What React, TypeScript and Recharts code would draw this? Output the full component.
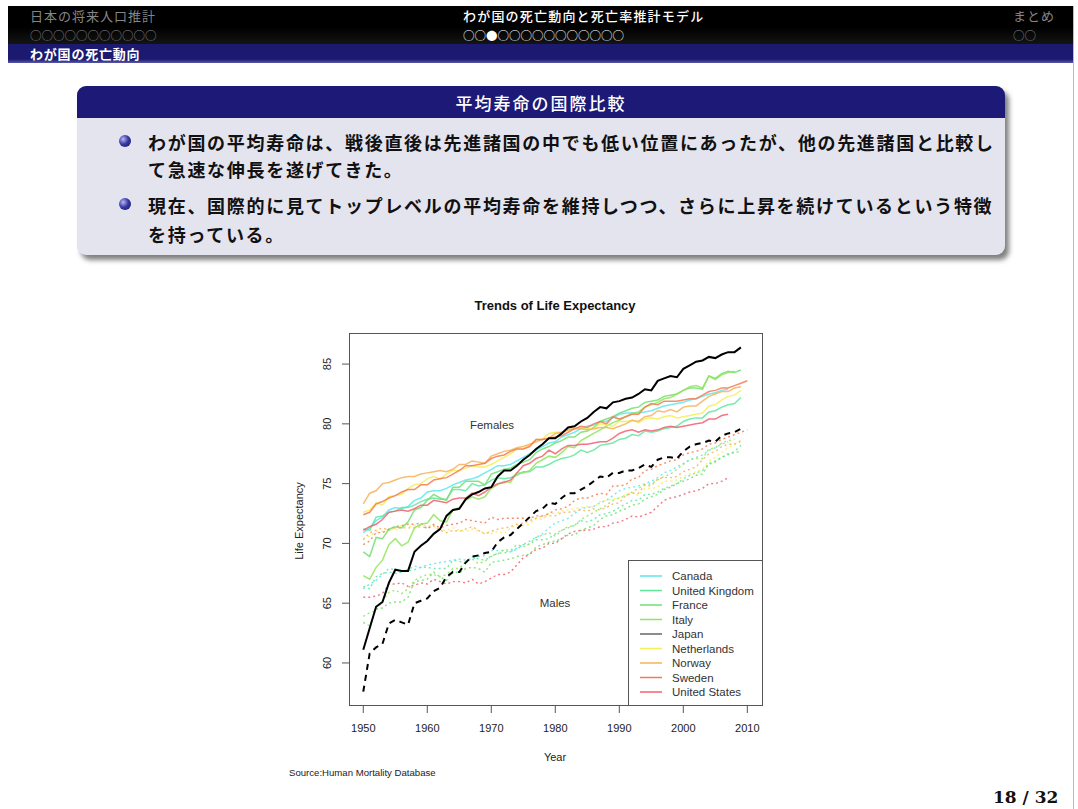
import React from 'react';
import { LineChart, Line, XAxis, YAxis } from 'recharts';

const YEARS = Array.from({ length: 61 }, (_, i) => 1950 + i);
const X_TICKS = [1950, 1960, 1970, 1980, 1990, 2000, 2010];
const Y_TICKS = [60, 65, 70, 75, 80, 85];
const COUNTRIES = ['Canada', 'United Kingdom', 'France', 'Italy', 'Japan', 'Netherlands', 'Norway', 'Sweden', 'United States'];
const COLORS = ['#5ee6f0', '#5ee89c', '#6fe06f', '#8fe65c', '#000000', '#f4ee58', '#f6b25a', '#f47a52', '#f2606f'];
const LEGEND_COLORS = ['#5ee6f0', '#5ee89c', '#6fe06f', '#8fe65c', '#666666', '#f4ee58', '#f6b25a', '#f47a52', '#f2606f'];

// Females
const canadaF = [
  70.9, 71.3, 71.9, 72.2, 72.8, 73.0, 72.9, 73.1, 73.6, 73.8,
  74.3, 74.4, 74.4, 74.6, 74.9, 75.1, 75.3, 75.4, 75.6, 75.9,
  76.2, 76.5, 76.5, 76.6, 76.9, 77.2, 77.5, 77.8, 78.1, 78.4,
  78.5, 78.9, 79.1, 79.3, 79.6, 79.8, 79.9, 80.2, 80.2, 80.5,
  80.8, 80.9, 80.9, 80.9, 81.0, 81.1, 81.3, 81.5, 81.6, 81.7,
  81.8, 82.0, 82.1, 82.3, 82.5, 82.6, 82.8, 82.9,
];
const ukF = [
  71.2, 71.1, 72.2, 72.3, 72.6, 72.7, 73.0, 73.0, 73.2, 73.5,
  73.7, 73.8, 73.7, 73.7, 74.5, 74.5, 74.4, 75.0, 74.8, 74.9,
  75.3, 75.5, 75.4, 75.5, 75.7, 76.0, 76.0, 76.4, 76.4, 76.6,
  76.9, 77.1, 77.2, 77.4, 77.8, 77.6, 77.8, 78.2, 78.3, 78.4,
  78.7, 78.8, 79.1, 79.0, 79.4, 79.3, 79.4, 79.6, 79.7, 79.8,
  80.2, 80.4, 80.5, 80.5, 81.0, 81.1, 81.4, 81.6, 81.7, 82.2,
];
const franceF = [
  69.3, 68.9, 70.5, 70.4, 71.2, 71.4, 71.3, 71.8, 72.8, 73.0,
  73.6, 74.1, 73.8, 73.6, 74.7, 74.7, 75.2, 75.2, 75.2, 74.9,
  75.8, 76.0, 76.2, 76.3, 76.6, 76.8, 77.0, 77.6, 77.9, 78.1,
  78.4, 78.6, 78.9, 78.9, 79.3, 79.4, 79.7, 80.2, 80.4, 80.6,
  80.9, 81.1, 81.3, 81.4, 81.8, 81.9, 82.0, 82.3, 82.4, 82.5,
  82.8, 83.0, 83.0, 82.9, 84.0, 83.8, 84.2, 84.4, 84.3, 84.5,
];
const italyF = [
  67.3, 67.0, 68.0, 68.6, 69.9, 70.4, 69.8, 70.1, 71.3, 71.6,
  71.7, 72.4, 71.9, 71.8, 72.8, 73.0, 73.6, 73.9, 73.7, 73.9,
  74.6, 74.9, 75.2, 75.1, 75.9, 75.9, 76.1, 76.7, 77.0, 77.3,
  77.2, 77.6, 78.1, 78.0, 78.6, 78.9, 79.2, 79.5, 79.8, 80.1,
  80.3, 80.6, 80.9, 81.0, 81.4, 81.6, 81.8, 82.1, 82.2, 82.5,
  82.8, 83.1, 83.2, 83.0, 84.0, 83.7, 84.1, 84.3, 84.4,
];
const japanF = [
  61.1, 62.9, 64.7, 65.1, 66.7, 67.8, 67.7, 67.7, 69.3, 69.8,
  70.2, 70.8, 71.2, 72.3, 72.8, 72.9, 73.7, 74.1, 74.3, 74.6,
  74.7, 75.6, 76.1, 76.1, 76.5, 77.0, 77.4, 77.9, 78.3, 78.8,
  78.8, 79.2, 79.7, 79.8, 80.2, 80.5, 81.0, 81.4, 81.3, 81.8,
  81.9, 82.1, 82.2, 82.5, 82.9, 82.8, 83.6, 83.8, 84.0, 83.9,
  84.6, 84.9, 85.2, 85.3, 85.6, 85.5, 85.8, 86.0, 86.0, 86.4,
];
const netherlandsF = [
  72.6, 72.8, 73.4, 73.2, 73.9, 74.0, 74.1, 74.6, 74.9, 75.0,
  75.4, 75.6, 75.4, 75.8, 76.1, 76.1, 76.3, 76.5, 76.4, 76.4,
  76.6, 76.9, 77.2, 77.5, 77.9, 77.9, 78.2, 78.7, 78.7, 79.2,
  79.3, 79.3, 79.5, 79.6, 79.7, 79.6, 79.6, 80.0, 79.9, 79.8,
  80.2, 80.2, 80.3, 80.1, 80.4, 80.5, 80.4, 80.6, 80.7, 80.5,
  80.6, 80.7, 80.8, 80.9, 81.5, 81.6, 82.0, 82.3, 82.4, 82.8,
];
const norwayF = [
  73.3, 74.2, 74.4, 75.0, 75.1, 75.3, 75.5, 75.6, 75.6, 75.8,
  75.9, 76.0, 76.1, 76.0, 76.2, 76.6, 76.6, 76.9, 76.8, 76.7,
  77.3, 77.5, 77.7, 77.8, 78.0, 78.1, 78.3, 78.5, 78.7, 78.8,
  79.2, 79.3, 79.5, 79.6, 79.6, 79.5, 79.6, 79.7, 79.7, 79.6,
  79.8, 80.0, 80.3, 80.2, 80.6, 80.7, 81.1, 81.0, 81.2, 81.0,
  81.4, 81.5, 81.5, 81.9, 82.3, 82.5, 82.7, 82.7, 83.0, 83.1,
];
const swedenF = [
  72.4, 72.6, 73.3, 73.5, 73.8, 74.0, 74.3, 74.5, 74.5, 74.9,
  74.9, 75.3, 75.4, 75.5, 75.8, 76.1, 76.5, 76.5, 76.6, 76.7,
  77.1, 77.3, 77.4, 77.7, 77.9, 77.9, 78.1, 78.7, 78.7, 78.8,
  78.9, 79.0, 79.3, 79.6, 79.8, 79.7, 80.0, 80.2, 80.0, 80.6,
  80.4, 80.6, 80.8, 80.8, 81.4, 81.7, 81.6, 81.9, 81.9, 81.9,
  82.0, 82.1, 82.1, 82.4, 82.7, 82.8, 83.0, 83.0, 83.2, 83.4,
  83.6,
];
const usF = [
  71.1, 71.4, 71.6, 72.0, 72.6, 72.7, 72.8, 72.7, 72.9, 73.2,
  73.2, 73.6, 73.5, 73.4, 73.7, 73.8, 73.8, 74.2, 74.0, 74.3,
  74.7, 75.0, 75.1, 75.3, 75.9, 76.5, 76.7, 77.1, 77.3, 77.8,
  77.5, 77.9, 78.2, 78.2, 78.3, 78.3, 78.4, 78.5, 78.5, 78.8,
  79.2, 79.4, 79.5, 79.3, 79.5, 79.4, 79.5, 79.7, 79.8, 79.7,
  79.8, 79.9, 80.0, 80.1, 80.4, 80.4, 80.7, 80.8,
];

// Males
const canadaM = [
  66.2, 66.6, 66.9, 67.4, 67.9, 67.8, 67.7, 67.8, 68.1, 68.0,
  68.2, 68.3, 68.4, 68.5, 68.6, 68.7, 68.6, 68.7, 68.9, 69.0,
  69.4, 69.4, 69.4, 69.3, 69.6, 69.9, 70.2, 70.5, 70.8, 71.3,
  71.7, 71.9, 72.1, 72.5, 72.9, 73.0, 73.1, 73.4, 73.6, 74.0,
  74.4, 74.6, 74.7, 74.8, 75.0, 75.2, 75.5, 75.9, 76.1, 76.4,
  76.7, 77.0, 77.2, 77.4, 77.8, 78.0, 78.3, 78.5,
];
const ukM = [
  66.4, 66.2, 67.2, 67.5, 67.6, 67.5, 67.6, 67.7, 67.8, 68.0,
  68.0, 67.9, 67.9, 67.9, 68.6, 68.5, 68.4, 68.9, 68.7, 68.6,
  68.9, 69.2, 69.2, 69.3, 69.5, 69.9, 69.9, 70.3, 70.3, 70.4,
  70.8, 71.1, 71.3, 71.5, 71.9, 71.8, 72.0, 72.4, 72.5, 72.7,
  73.0, 73.3, 73.6, 73.6, 74.1, 74.1, 74.3, 74.6, 74.8, 75.0,
  75.4, 75.7, 75.9, 76.1, 76.6, 76.9, 77.2, 77.4, 77.7, 78.2,
];
const franceM = [
  63.4, 63.1, 64.5, 64.6, 65.0, 65.1, 65.1, 65.5, 66.8, 66.9,
  67.0, 67.6, 67.2, 66.9, 67.7, 67.5, 67.9, 68.0, 67.9, 67.6,
  68.4, 68.5, 68.6, 68.7, 68.9, 69.0, 69.1, 69.7, 69.9, 70.1,
  70.2, 70.4, 70.7, 70.7, 71.1, 71.3, 71.5, 72.0, 72.3, 72.4,
  72.7, 72.9, 73.2, 73.3, 73.7, 73.9, 74.1, 74.5, 74.7, 75.0,
  75.2, 75.4, 75.7, 75.8, 76.7, 76.8, 77.2, 77.5, 77.6, 77.7,
];
const italyM = [
  63.9, 64.2, 64.4, 65.2, 65.9, 66.1, 65.8, 66.2, 66.9, 67.2,
  67.4, 67.4, 67.2, 67.4, 67.9, 67.9, 68.5, 68.7, 68.3, 68.5,
  69.0, 69.1, 69.5, 69.4, 69.9, 69.7, 70.0, 70.5, 70.7, 70.9,
  70.6, 71.1, 71.4, 71.5, 72.0, 72.3, 72.6, 72.9, 73.2, 73.6,
  73.8, 74.0, 74.3, 74.6, 74.9, 75.0, 75.3, 75.6, 75.8, 76.2,
  76.6, 77.0, 77.1, 77.1, 77.9, 78.0, 78.4, 78.6, 78.7,
];
const japanM = [
  57.6, 60.8, 61.3, 61.6, 63.3, 63.6, 63.4, 63.2, 65.0, 65.2,
  65.4, 66.0, 66.3, 67.2, 67.6, 67.6, 68.4, 68.9, 69.0, 69.2,
  69.3, 70.1, 70.5, 70.7, 71.2, 71.7, 72.2, 72.7, 72.9, 73.4,
  73.3, 73.8, 74.2, 74.2, 74.5, 74.8, 75.2, 75.6, 75.5, 75.9,
  75.9, 76.1, 76.1, 76.3, 76.6, 76.4, 77.0, 77.2, 77.2, 77.1,
  77.7, 78.1, 78.3, 78.4, 78.6, 78.5, 79.0, 79.2, 79.3, 79.6,
];
const netherlandsM = [
  70.4, 70.6, 71.0, 71.0, 71.2, 71.1, 71.5, 71.4, 71.5, 71.5,
  71.5, 71.4, 71.1, 71.1, 71.3, 71.1, 71.0, 71.2, 71.0, 70.9,
  70.8, 71.0, 70.8, 71.3, 71.5, 71.5, 71.6, 72.1, 72.0, 72.5,
  72.5, 72.7, 72.8, 72.9, 73.0, 73.1, 73.0, 73.5, 73.6, 73.7,
  73.8, 74.1, 74.3, 74.0, 74.6, 74.6, 74.7, 75.2, 75.2, 75.3,
  75.6, 75.8, 76.0, 76.2, 76.9, 77.2, 77.6, 78.0, 78.3, 78.5,
];
const norwayM = [
  70.3, 70.9, 71.1, 71.3, 71.1, 71.3, 71.3, 71.3, 71.3, 71.4,
  71.3, 71.5, 71.1, 70.9, 71.1, 71.0, 71.2, 71.4, 71.1, 70.8,
  71.0, 71.2, 71.3, 71.4, 71.6, 71.7, 71.9, 72.1, 72.3, 72.3,
  72.3, 72.6, 72.6, 72.7, 72.8, 72.7, 72.9, 72.8, 73.0, 73.3,
  73.4, 74.0, 74.2, 74.2, 74.9, 74.8, 75.4, 75.5, 75.5, 75.6,
  76.0, 76.2, 76.4, 77.0, 77.5, 77.7, 78.1, 78.3, 78.3, 78.6,
];
const swedenM = [
  69.9, 70.2, 70.9, 70.9, 71.2, 71.4, 71.5, 71.6, 71.6, 71.7,
  71.2, 71.6, 71.3, 71.5, 71.6, 71.7, 72.0, 71.9, 71.8, 71.7,
  72.2, 72.0, 72.1, 72.1, 72.1, 72.1, 72.1, 72.3, 72.3, 72.5,
  72.8, 72.9, 73.1, 73.6, 73.8, 73.8, 74.0, 74.2, 74.1, 74.8,
  74.8, 74.9, 75.4, 75.5, 76.1, 76.2, 76.5, 76.7, 76.9, 77.0,
  77.4, 77.6, 77.7, 77.9, 78.3, 78.4, 78.7, 78.9, 79.1, 79.3,
  79.5,
];
const usM = [
  65.5, 65.5, 65.6, 65.8, 66.6, 66.6, 66.7, 66.4, 66.5, 66.7,
  66.6, 67.0, 66.8, 66.6, 66.8, 66.8, 66.7, 67.0, 66.6, 66.8,
  67.1, 67.4, 67.4, 67.6, 68.2, 68.8, 69.1, 69.5, 69.6, 70.0,
  70.0, 70.4, 70.8, 71.0, 71.1, 71.1, 71.2, 71.4, 71.4, 71.7,
  71.8, 72.0, 72.3, 72.2, 72.4, 72.6, 73.1, 73.6, 73.8, 73.9,
  74.1, 74.3, 74.4, 74.6, 75.0, 75.0, 75.2, 75.5,
];

const FEMALES = [canadaF, ukF, franceF, italyF, japanF, netherlandsF, norwayF, swedenF, usF];
const MALES = [canadaM, ukM, franceM, italyM, japanM, netherlandsM, norwayM, swedenM, usM];

const data = YEARS.map((year, i) => {
  const row: Record<string, number | null> = { year };
  COUNTRIES.forEach((_, k) => {
    row['f' + k] = i < FEMALES[k].length ? FEMALES[k][i] : null;
    row['m' + k] = i < MALES[k].length ? MALES[k][i] : null;
  });
  return row;
});

const JP = 'Noto Sans CJK JP, sans-serif';
const SANS = 'Liberation Sans, Arial, Helvetica, sans-serif';

const YTick = (props: any) => {
  const { x, y, payload } = props;
  const cx = x - 11;
  return (
    <text x={cx} y={y} transform={`rotate(-90, ${cx}, ${y})`} textAnchor="middle" dominantBaseline="central" fontSize={11} fill="#222" fontFamily={SANS}>
      {payload.value}
    </text>
  );
};

const Abs = ({ x, y, children, style }: any) => (
  <div style={{ position: 'absolute', left: x, top: y, whiteSpace: 'nowrap', ...style }}>{children}</div>
);

const Centered = ({ x, y, children, style }: any) => (
  <div style={{ position: 'absolute', left: x, top: y, transform: 'translate(-50%, -50%)', whiteSpace: 'nowrap', ...style }}>{children}</div>
);

const Ball = ({ x, y }: any) => (
  <div style={{ position: 'absolute', left: x - 6, top: y - 6, width: 12, height: 12, borderRadius: 6, background: 'radial-gradient(circle at 35% 35%, #b8b8f0 0%, #3a3aa8 45%, #10105a 100%)' }} />
);

export default function App() {
  const order = [0, 1, 2, 3, 5, 6, 7, 8, 4];
  return (
    <div style={{ position: 'absolute', left: 0, top: 0, width: 1078, height: 809, overflow: 'hidden', background: '#fff', fontFamily: SANS }}>
      {/* header */}
      <div style={{ position: 'absolute', left: 8, top: 6, width: 1065, height: 38, background: 'linear-gradient(#000 0%, #000 55%, #141414 100%)' }} />
      <Abs x={30} y={8} style={{ fontFamily: JP, fontSize: 13, letterSpacing: 1, color: '#858585', lineHeight: '16px' }}>日本の将来人口推計</Abs>
      <Abs x={30} y={27} style={{ fontFamily: JP, fontSize: 11.5, color: '#858585', lineHeight: '16px' }}>○○○○○○○○○○○</Abs>
      <Abs x={463} y={8} style={{ fontFamily: JP, fontSize: 13, letterSpacing: 1.2, color: '#fff', fontWeight: 500, lineHeight: '16px' }}>わが国の死亡動向と死亡率推計モデル</Abs>
      <Abs x={463} y={27} style={{ fontFamily: JP, fontSize: 11.5, color: '#fff', lineHeight: '16px' }}>○○●○○○○○○○○○○○</Abs>
      <Abs x={1013} y={8} style={{ fontFamily: JP, fontSize: 13, letterSpacing: 1, color: '#858585', lineHeight: '16px' }}>まとめ</Abs>
      <Abs x={1013} y={27} style={{ fontFamily: JP, fontSize: 11.5, color: '#858585', lineHeight: '16px' }}>○○</Abs>
      <div style={{ position: 'absolute', left: 8, top: 44, width: 1065, height: 19, background: 'linear-gradient(#1c1a70 0%, #1c1a70 80%, #5a58a8 100%)' }} />
      <Abs x={30} y={45} style={{ fontFamily: JP, fontSize: 13, letterSpacing: 0.8, color: '#fff', fontWeight: 700, lineHeight: '17px' }}>わが国の死亡動向</Abs>
      <div style={{ position: 'absolute', left: 1073, top: 6, width: 1, height: 803, background: '#bbb' }} />

      {/* block */}
      <div style={{ position: 'absolute', left: 77, top: 86, width: 928, height: 169, borderRadius: 9, background: '#e4e4ef', boxShadow: '4px 5px 5px rgba(0,0,0,0.5)' }} />
      <div style={{ position: 'absolute', left: 77, top: 86, width: 928, height: 32, borderRadius: '9px 9px 0 0', background: '#1c1a76' }} />
      <Centered x={541} y={102} style={{ fontFamily: JP, fontSize: 17, letterSpacing: 2, color: '#fff', fontWeight: 500 }}>平均寿命の国際比較</Centered>
      <Ball x={125} y={141} />
      <Ball x={125} y={204} />
      <Abs x={148} y={130} style={{ fontFamily: JP, fontSize: 18, letterSpacing: 1.7, fontWeight: 700, color: '#111', lineHeight: '24px' }}>わが国の平均寿命は、戦後直後は先進諸国の中でも低い位置にあったが、他の先進諸国と比較し</Abs>
      <Abs x={148} y={157} style={{ fontFamily: JP, fontSize: 18, letterSpacing: 1.7, fontWeight: 700, color: '#111', lineHeight: '24px' }}>て急速な伸長を遂げてきた。</Abs>
      <Abs x={148} y={193} style={{ fontFamily: JP, fontSize: 18, letterSpacing: 1.7, fontWeight: 700, color: '#111', lineHeight: '24px' }}>現在、国際的に見てトップレベルの平均寿命を維持しつつ、さらに上昇を続けているという特徴</Abs>
      <Abs x={148} y={222} style={{ fontFamily: JP, fontSize: 18, letterSpacing: 1.7, fontWeight: 700, color: '#111', lineHeight: '24px' }}>を持っている。</Abs>

      {/* chart texts */}
      <Centered x={555} y={305} style={{ fontSize: 13, fontWeight: 700, color: '#111' }}>Trends of Life Expectancy</Centered>
      <Centered x={299} y={521} style={{ fontSize: 11, color: '#222', transform: 'translate(-50%, -50%) rotate(-90deg)' }}>Life Expectancy</Centered>
      <Centered x={555} y={757} style={{ fontSize: 11, color: '#222' }}>Year</Centered>
      <Abs x={289} y={767} style={{ fontSize: 9.6, color: '#222', lineHeight: '12px' }}>Source:Human Mortality Database</Abs>
      <Centered x={492} y={425} style={{ fontSize: 11.5, color: '#333' }}>Females</Centered>
      <Centered x={555} y={603} style={{ fontSize: 11.5, color: '#333' }}>Males</Centered>

      {/* plot box */}
      <div style={{ position: 'absolute', left: 349, top: 333, width: 414, height: 373, border: '1px solid #555', boxSizing: 'border-box' }} />

      {/* legend */}
      <div style={{ position: 'absolute', left: 628, top: 560, width: 135, height: 146, border: '1px solid #555', boxSizing: 'border-box', background: '#fff' }}>
        <svg width={133} height={144} style={{ position: 'absolute', left: 0, top: 0 }}>
          {COUNTRIES.map((c, k) => (
            <line key={c} x1={11} x2={33} y1={15 + k * 14.5} y2={15 + k * 14.5} stroke={LEGEND_COLORS[k]} strokeWidth={1.5} />
          ))}
        </svg>
        {COUNTRIES.map((c, k) => (
          <div key={c} style={{ position: 'absolute', left: 43, top: Math.round(8 + k * 14.5), fontSize: 11.5, lineHeight: '14px', color: '#333', whiteSpace: 'nowrap' }}>{c}</div>
        ))}
      </div>

      <div style={{ position: 'absolute', left: 0, top: 0 }}>
        <LineChart width={1078} height={809} data={data} margin={{ top: 333, right: 315, bottom: 63, left: 309 }}>
          <XAxis
            dataKey="year"
            type="number"
            domain={[1947.77, 2012.45]}
            ticks={X_TICKS}
            interval={0}
            allowDataOverflow
            axisLine={false}
            tickSize={7}
            tickMargin={11}
            height={40}
            tickLine={{ stroke: '#555' }}
            tick={{ fontSize: 11, fill: '#222', fontFamily: SANS }}
          />
          <YAxis
            type="number"
            domain={[56.4, 87.6]}
            ticks={Y_TICKS}
            interval={0}
            allowDataOverflow
            axisLine={false}
            tickSize={7}
            tickMargin={4}
            width={40}
            tickLine={{ stroke: '#555' }}
            tick={<YTick />}
          />
          {order.map((k) => (
            <Line
              key={'m' + k}
              dataKey={'m' + k}
              stroke={COLORS[k]}
              strokeWidth={k === 4 ? 2 : 1.4}
              strokeDasharray={k === 4 ? '6 5' : '2 3'}
              strokeOpacity={k === 4 ? 1 : 0.85}
              dot={false}
              isAnimationActive={false}
              connectNulls={false}
            />
          ))}
          {order.map((k) => (
            <Line
              key={'f' + k}
              dataKey={'f' + k}
              stroke={COLORS[k]}
              strokeWidth={k === 4 ? 2 : 1.5}
              strokeOpacity={k === 4 ? 1 : 0.85}
              dot={false}
              isAnimationActive={false}
              connectNulls={false}
            />
          ))}
        </LineChart>
      </div>

      <Abs x={993} y={786} style={{ fontFamily: 'DejaVu Serif, Liberation Serif, serif', fontSize: 17, fontWeight: 700, color: '#111', lineHeight: '22px' }}>18 / 32</Abs>
    </div>
  );
}
